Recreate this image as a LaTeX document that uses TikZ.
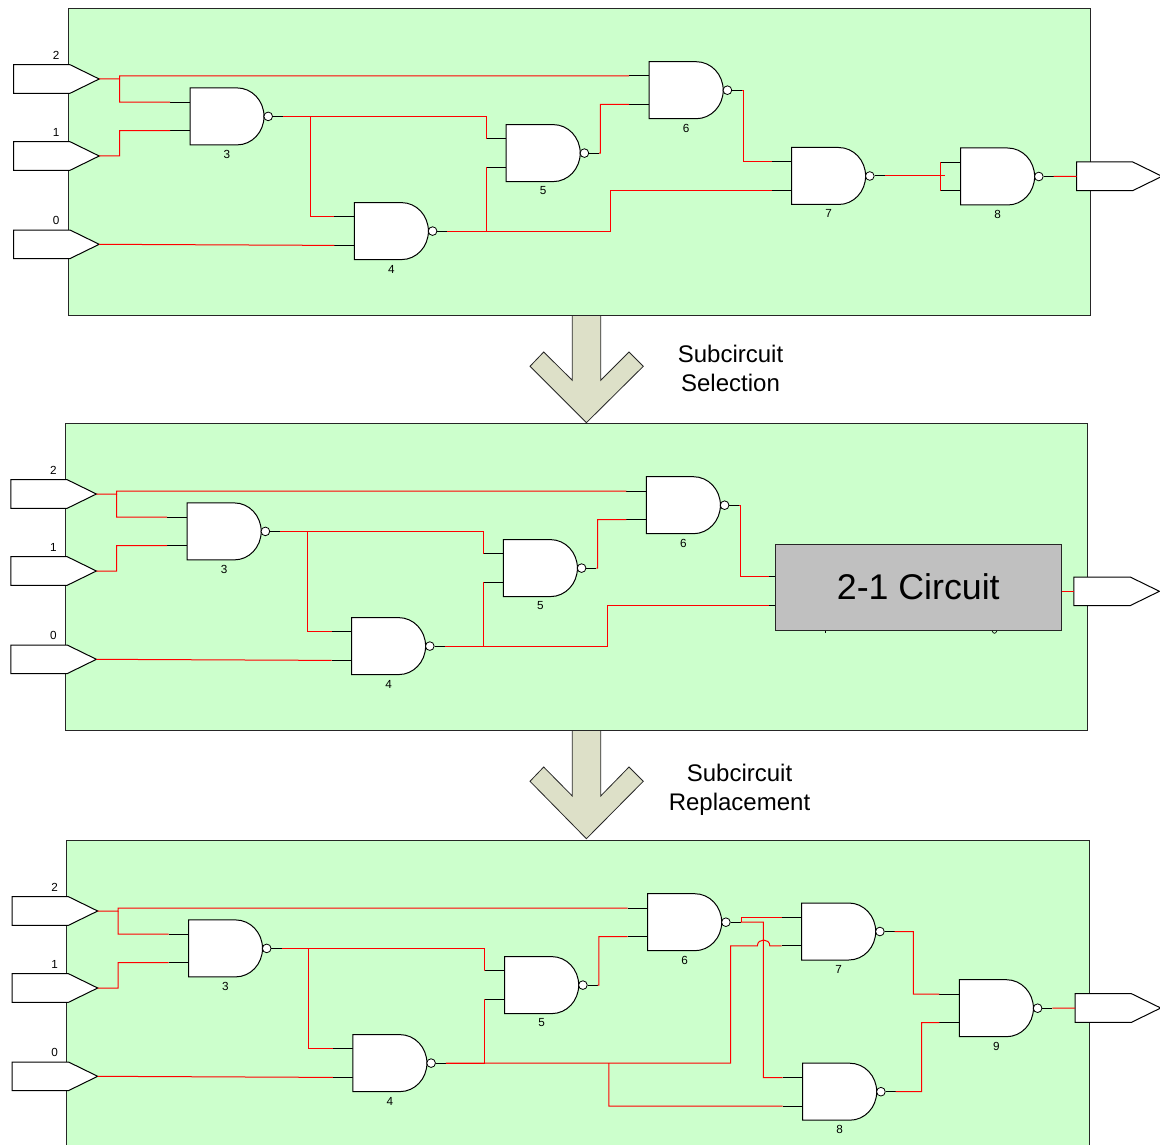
\documentclass[tikz,border=0pt]{standalone}
\usepackage{fontspec}
\setmainfont{Liberation Sans}
\definecolor{panelgreen}{HTML}{CCFFCC}
\definecolor{arrowfill}{HTML}{DDE0C8}
\definecolor{blockgray}{HTML}{C0C0C0}
\tikzset{
  x=0.75pt,y=-0.75pt,
  panelfill/.style={fill=panelgreen,draw=none},
  paneledge/.style={draw=black!85,line width=0.75pt},
  wire/.style={draw=red,line width=0.75pt},
  stubline/.style={draw=black,line width=0.75pt},
  gatebody/.style={draw=black,fill=white,line width=0.75pt},
  bubble/.style={circle,draw=black,fill=white,line width=0.6pt,minimum size=6.5pt,inner sep=0pt},
  smalltext/.style={inner sep=0pt,font=\fontsize{8.8}{10}\selectfont},
  bigarrow/.style={draw=black!85,fill=arrowfill,line width=0.6pt,line join=miter},
  caption/.style={inner sep=0pt,align=center,font=\fontsize{18}{21.75}\selectfont},
  blockbox/.style={draw=black!85,fill=blockgray,line width=0.75pt,inner sep=0pt,
    minimum width=214.5pt,minimum height=65pt,font=\fontsize{26.8}{30}\selectfont}
}
% name, left x, top y, label
\newcommand{\nandgate}[4]{%
  \begin{scope}[shift={(#2,#3)}]
    \coordinate (#1-a) at (-20,14.3);
    \coordinate (#1-ai) at (0,14.3);
    \coordinate (#1-b) at (-20,42.8);
    \coordinate (#1-bi) at (0,42.8);
    \coordinate (#1-o) at (93,28.5);
    \draw[stubline] (#1-a) -- (#1-ai);
    \draw[stubline] (#1-b) -- (#1-bi);
    \draw[gatebody] (0,0) -- (47,0) .. controls (62,0) and (74,12.8) .. (74,28.5)
      .. controls (74,44.2) and (62,57) .. (47,57) -- (0,57) -- cycle;
    \node[bubble] (#1-bub) at (78.2,28.5) {};
    \draw[stubline] (#1-bub.east) -- (#1-o);
    \node[smalltext] (#1-lab) at (37,66.4) {#4};
  \end{scope}%
}
% name, left x, top y, label (empty = none)
\newcommand{\ioPin}[4]{%
  \begin{scope}[shift={(#2,#3)}]
    \draw[gatebody] (0,0) -- (56.3,0) -- (85.5,14.3) -- (56.3,28.6) -- (0,28.6) -- cycle;
    \coordinate (#1-in) at (0,14.3);
    \coordinate (#1-tip) at (85.5,14.3);
    \if\relax\detokenize{#4}\relax\else
      \node[smalltext] (#1-lab) at (42.5,-9.4) {#4};
    \fi
  \end{scope}%
}
% prefix, dx, dy : the part all three circuits have in common
\newcommand{\commonpart}[3]{%
  \begin{scope}[shift={(#2,#3)}]
    \ioPin{#1p2}{13.7}{64.7}{2}
    \ioPin{#1p1}{13.7}{141.7}{1}
    \ioPin{#1p0}{13.7}{230}{0}
    \nandgate{#1g3}{190}{87.9}{3}
    \nandgate{#1g4}{354.4}{202.6}{4}
    \nandgate{#1g5}{506.2}{124.6}{5}
    \nandgate{#1g6}{649.2}{61.7}{6}
    \draw[wire] (#1p2-tip) -- (119.5,79) -- (119.5,76) -- (#1g6-a);
    \draw[wire] (119.5,79) -- (119.5,102.2) -- (#1g3-a);
    \draw[wire] (#1p1-tip) -- (119.5,156) -- (119.5,130.7) -- (#1g3-b);
    \draw[wire] (#1p0-tip) -- (#1g4-b);
    \draw[wire] (#1g3-o) -- (486.4,116.4) -- (486.4,138.9) -- (#1g5-a);
    \draw[wire] (310.4,116.4) -- (310.4,216.9) -- (#1g4-a);
    \draw[wire] (#1g4-o) -- (486.4,231.1) -- (486.4,167.4) -- (#1g5-b);
    \draw[wire] (#1g5-o) -- (600.3,153.1) -- (600.3,104.5) -- (#1g6-b);
  \end{scope}%
}
\begin{document}
\begin{tikzpicture}
\useasboundingbox (0,0) rectangle (1160,1145);

% ---- transformation arrows
\draw[bigarrow] (572.3,315) -- (572.3,380.3) -- (543.7,352) -- (530,366.3) -- (586.4,422.7)
  -- (643.3,366.3) -- (629,352) -- (600.7,380.3) -- (600.7,315) -- cycle;
\draw[bigarrow] (572.3,730) -- (572.3,796) -- (543.7,767) -- (530,781.3) -- (586.4,838.7)
  -- (643.3,781.3) -- (629,767) -- (600.7,796) -- (600.7,730) -- cycle;
\node[caption] (capA) at (730.5,368.5) {Subcircuit\\Selection};
\node[caption] (capB) at (739.5,790) {Subcircuit\\Replacement};

% ---- panels
\path[panelfill] (68,8.5) rectangle (1090.5,315);
\draw[paneledge] (68,8.5) rectangle (1090.5,315);
\path[panelfill] (65.2,423.3) rectangle (1087.7,730);
\draw[paneledge] (65.2,423.3) rectangle (1087.7,730);
\path[panelfill] (66.5,840) rectangle (1089,1145);
\draw[paneledge] (66.5,1145) -- (66.5,840) -- (1089,840) -- (1089,1145);

% ---- top circuit
\commonpart{A}{0}{0}
\nandgate{Ag7}{791.6}{147.5}{7}
\nandgate{Ag8}{960.6}{148}{8}
\ioPin{Aout}{1076.5}{162}{}
\draw[wire] (Ag6-o) -- (743,90.2) -- (743,161.8) -- (Ag7-a);
\draw[wire] (Ag4-o) -- (610,231.1) -- (610,190.3) -- (Ag7-b);
\draw[wire] (Ag7-o) -- (944.8,176);
\draw[wire] (Ag8-a) -- (Ag8-b);
\draw[wire] (Ag8-o) -- (Aout-in);

% ---- middle circuit
\commonpart{B}{-2.8}{415}
\draw[line width=0.5pt] (825.3,631) -- (825.3,632.6);
\draw[line width=0.5pt] (992.2,631) .. controls (993,634) and (996,634) .. (996.8,631);
\node[blockbox] (Bblock) at (918.3,587.6) {\raisebox{1.3pt}{2-1 Circuit}};
\ioPin{Bout}{1073.9}{577}{}
\coordinate (Bblock-a) at (769.4,576.7);
\coordinate (Bblock-ai) at (Bblock.west |- Bblock-a);
\coordinate (Bblock-b) at (769.4,605);
\coordinate (Bblock-bi) at (Bblock.west |- Bblock-b);
\coordinate (Bblock-o) at (Bblock.east |- Bout-in);
\draw[wire] (Bg6-o) -- (740.6,505.2) -- (740.6,576.7) -- (Bblock-a);
\draw[wire] (Bg4-o) -- (607.2,646.1) -- (607.2,605) -- (Bblock-b);
\draw[stubline] (Bblock-a) -- (Bblock-ai);
\draw[stubline] (Bblock-b) -- (Bblock-bi);
\draw[wire] (Bblock-o) -- (Bout-in);

% ---- bottom circuit
\commonpart{C}{-1.5}{832}
\nandgate{Cg7}{801.7}{903}{7}
\nandgate{Cg8}{802.7}{1063.2}{8}
\nandgate{Cg9}{959.4}{979.7}{9}
\ioPin{Cout}{1075.2}{993.7}{}
\draw[wire] (Cg6-o) -- (763.3,922.2) -- (763.3,1077.5) -- (Cg8-a);
\draw[wire] (741.3,922.2) -- (741.3,917.3) -- (Cg7-a);
\draw[wire] (Cg4-o) -- (730.5,1063.1) -- (730.5,945.8) -- (757.4,945.8)
  .. controls (757.4,938.1) and (769.8,938.1) .. (769.8,945.8) -- (Cg7-b);
\draw[wire] (608.9,1063.1) -- (608.9,1106) -- (Cg8-b);
\draw[wire] (Cg7-o) -- (913.4,931.5) -- (913.4,994) -- (Cg9-a);
\draw[wire] (Cg8-o) -- (921.6,1091.7) -- (921.6,1022.5) -- (Cg9-b);
\draw[wire] (Cg9-o) -- (Cout-in);
\end{tikzpicture}
\end{document}
